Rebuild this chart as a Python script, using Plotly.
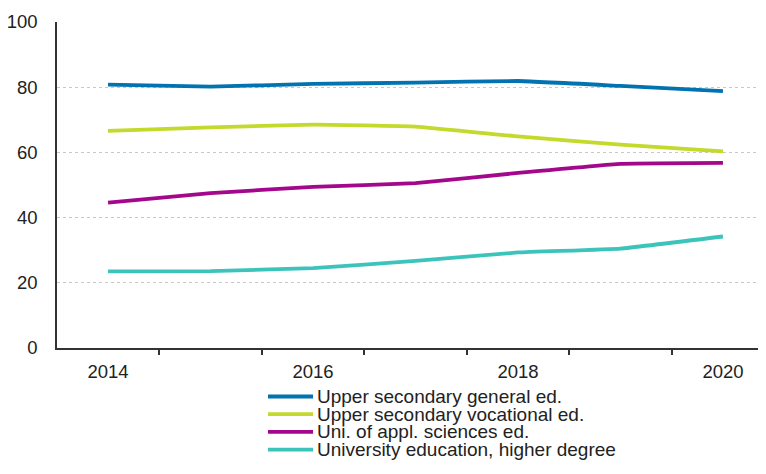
import plotly.graph_objects as go

years = [2014, 2015, 2016, 2017, 2018, 2019, 2020]
upper_general = [80.8, 80.2, 81.0, 81.4, 81.9, 80.4, 78.8]
upper_vocational = [66.6, 67.7, 68.5, 67.9, 64.9, 62.4, 60.3]
uas = [44.6, 47.5, 49.4, 50.6, 53.7, 56.5, 56.8]
university = [23.5, 23.6, 24.5, 26.7, 29.3, 30.5, 34.2]

names = ["Upper secondary general ed.", "Upper secondary vocational ed.",
         "Uni. of appl. sciences ed.", "University education, higher degree"]
colors = ["#0073B0", "#C3D92B", "#A3078C", "#3CC4BC"]
series = [upper_general, upper_vocational, uas, university]

tick_years = [2014, 2016, 2018, 2020]
boundaries = [y - 0.5 for y in years]

# the page adds an ~8px body margin; compensate so the chart lands where the reference is
OFF = 8
W, H = 766, 474
ML, MT = 57 - OFF, 22 - OFF
MR = OFF
MB = H - (348 - OFF)
PW, PH = W - ML - MR, H - MT - MB
FONT = "Liberation Sans, Arial, sans-serif"

def px_x(px):
    return (px - OFF - ML) / PW

def px_y(py):
    return (H - MB - (py - OFF)) / PH

fig = go.Figure()
for n, c, s in zip(names, colors, series):
    fig.add_trace(go.Scatter(x=years, y=s, name=n, mode="lines", showlegend=False,
                             line=dict(color=c, width=3.8, shape="spline", smoothing=0.3)))

# custom legend (compact row spacing like the reference)
shapes = []
annotations = []
for i, (n, c) in enumerate(zip(names, colors)):
    yc = px_y(396.5 + 17.7 * i)
    shapes.append(dict(type="line", xref="paper", yref="paper",
                       x0=px_x(268), x1=px_x(313), y0=yc, y1=yc,
                       line=dict(color=c, width=3.8)))
    annotations.append(dict(xref="paper", yref="paper", x=px_x(315), y=yc,
                            xanchor="left", yanchor="middle", text=n, showarrow=False,
                            font=dict(family=FONT, size=19, color="#222222")))

fig.update_layout(
    width=W, height=H,
    margin=dict(l=ML, r=MR, t=MT, b=MB, autoexpand=False),
    paper_bgcolor="white", plot_bgcolor="white",
    font=dict(family=FONT, size=18.5, color="#222222"),
    showlegend=False,
    shapes=shapes, annotations=annotations,
    xaxis=dict(range=[2013.502, 2020.42], tickvals=tick_years,
               ticktext=[str(y) for y in tick_years], ticks="",
               showgrid=False, zeroline=False, automargin=False,
               showline=True, linecolor="#333333", linewidth=1.5,
               ticklabelstandoff=6,
               minor=dict(tickvals=boundaries, ticks="outside", ticklen=5,
                          tickcolor="#333333", tickwidth=1.5, showgrid=False)),
    yaxis=dict(range=[0, 100], tickvals=[0, 20, 40, 60, 80, 100], ticks="",
               showgrid=True, gridcolor="#c8c8c8", griddash="dot", gridwidth=1,
               zeroline=False, showline=True, linecolor="#333333", linewidth=1.5,
               automargin=False, ticklabelstandoff=14),
)

fig.write_html("out.html")
